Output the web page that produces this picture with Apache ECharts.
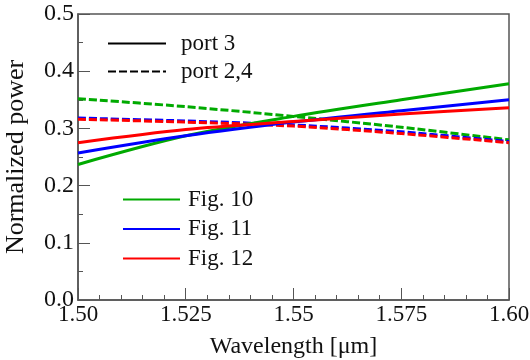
<!DOCTYPE html>
<html>
<head>
<meta charset="utf-8">
<script src="https://cdn.jsdelivr.net/npm/echarts@6/dist/echarts.min.js"></script>
<style>
  html, body { margin: 0; padding: 0; background: #fff; }
  #chart { width: 530px; height: 360px; }
</style>
</head>
<body>
<div id="chart"></div>
<script>
// wavelength samples (um)
const wavelengths = [1.50, 1.525, 1.55, 1.575, 1.60];

// port 3 (solid)
const fig10Port3 = [0.237, 0.287, 0.321, 0.350, 0.378];
const fig11Port3 = [0.257, 0.287, 0.311, 0.331, 0.350];
const fig12Port3 = [0.275, 0.298, 0.312, 0.325, 0.336];

// port 2,4 (dashed)
const fig10Port24 = [0.352, 0.338, 0.321, 0.302, 0.280];
const fig11Port24 = [0.318, 0.313, 0.306, 0.294, 0.277];
const fig12Port24 = [0.316, 0.311, 0.304, 0.291, 0.275];

const xTickLabels = ['1.50', '1.525', '1.55', '1.575', '1.60'];
const yTickLabels = ['0.0', '0.1', '0.2', '0.3', '0.4', '0.5'];

const font = '"Liberation Serif", "Times New Roman", serif';
const green = '#00aa00';
const blue = '#0000ff';
const red = '#ff0000';
const dash = [8, 3];

const pairs = (vals) => wavelengths.map((w, i) => [w, vals[i]]);

function line(name, vals, color, type) {
    return {
        name: name,
        type: 'line',
        data: vals ? pairs(vals) : [],
        smooth: 0.3,
        symbol: 'none',
        lineStyle: { color: color, width: 3, type: type },
        itemStyle: { color: color },
        silent: true,
        z: type === 'solid' ? 3 : 2,
    };
}

const chart = echarts.init(document.getElementById('chart'));

chart.setOption({
    animation: false,
    textStyle: { fontFamily: font },
    grid: {
        left: 78,
        right: 21,
        top: 14,
        bottom: 60,
        outerBoundsMode: 'none',
        containLabel: false,
        show: true,
        borderColor: '#555',
        borderWidth: 1.5,
    },
    legend: [
        {
            data: ['port 3', 'port 2,4'],
            orient: 'vertical',
            left: 107,
            top: 32,
            padding: 0,
            itemWidth: 58,
            itemHeight: 14,
            itemGap: 5,
            itemStyle: { opacity: 0 },
            textStyle: { fontFamily: font, fontSize: 23, lineHeight: 14, color: '#111', padding: [0, 0, 0, 10] },
        },
        {
            data: ['Fig. 10', 'Fig. 11', 'Fig. 12'],
            orient: 'vertical',
            left: 122,
            top: 188,
            padding: 0,
            itemWidth: 57,
            itemHeight: 14,
            itemGap: 6.5,
            itemStyle: { opacity: 0 },
            textStyle: { fontFamily: font, fontSize: 23, lineHeight: 14, color: '#111', padding: [0, 0, 0, 3] },
        },
    ],
    xAxis: {
        type: 'value',
        min: 1.5,
        max: 1.6,
        interval: 0.025,
        name: 'Wavelength [\u03bcm]',
        nameLocation: 'middle',
        nameGap: 35,
        nameTextStyle: { fontFamily: font, fontSize: 24, color: '#111' },
        axisLine: { lineStyle: { color: '#555', width: 1.5 } },
        axisTick: { inside: true, length: 12, lineStyle: { color: '#555' } },
        minorTick: { show: true, splitNumber: 5, length: 5, lineStyle: { color: '#555' } },
        splitLine: { show: false },
        axisLabel: {
            fontFamily: font,
            fontSize: 23,
            color: '#111',
            margin: 3,
            formatter: (v) => xTickLabels[Math.round((v - 1.5) / 0.025)],
        },
    },
    yAxis: {
        type: 'value',
        min: 0,
        max: 0.5,
        interval: 0.1,
        name: 'Normalized power',
        nameLocation: 'middle',
        nameGap: 49,
        nameTextStyle: { fontFamily: font, fontSize: 26, color: '#111' },
        axisLine: { lineStyle: { color: '#555', width: 1.5 } },
        axisTick: { inside: true, length: 12, lineStyle: { color: '#555' } },
        minorTick: { show: true, splitNumber: 2, length: 5, lineStyle: { color: '#555' } },
        splitLine: { show: false },
        axisLabel: {
            fontFamily: font,
            fontSize: 24,
            color: '#111',
            margin: 4,
            formatter: (v) => yTickLabels[Math.round(v * 10)],
        },
    },
    series: [
        line('port 3', null, '#000', 'solid'),
        line('port 2,4', null, '#000', dash),
        line('Fig. 10 port 2,4', fig10Port24, green, dash),
        line('Fig. 11 port 2,4', fig11Port24, blue, dash),
        line('Fig. 12 port 2,4', fig12Port24, red, dash),
        line('Fig. 10', fig10Port3, green, 'solid'),
        line('Fig. 11', fig11Port3, blue, 'solid'),
        line('Fig. 12', fig12Port3, red, 'solid'),
    ],
});
</script>
</body>
</html>
